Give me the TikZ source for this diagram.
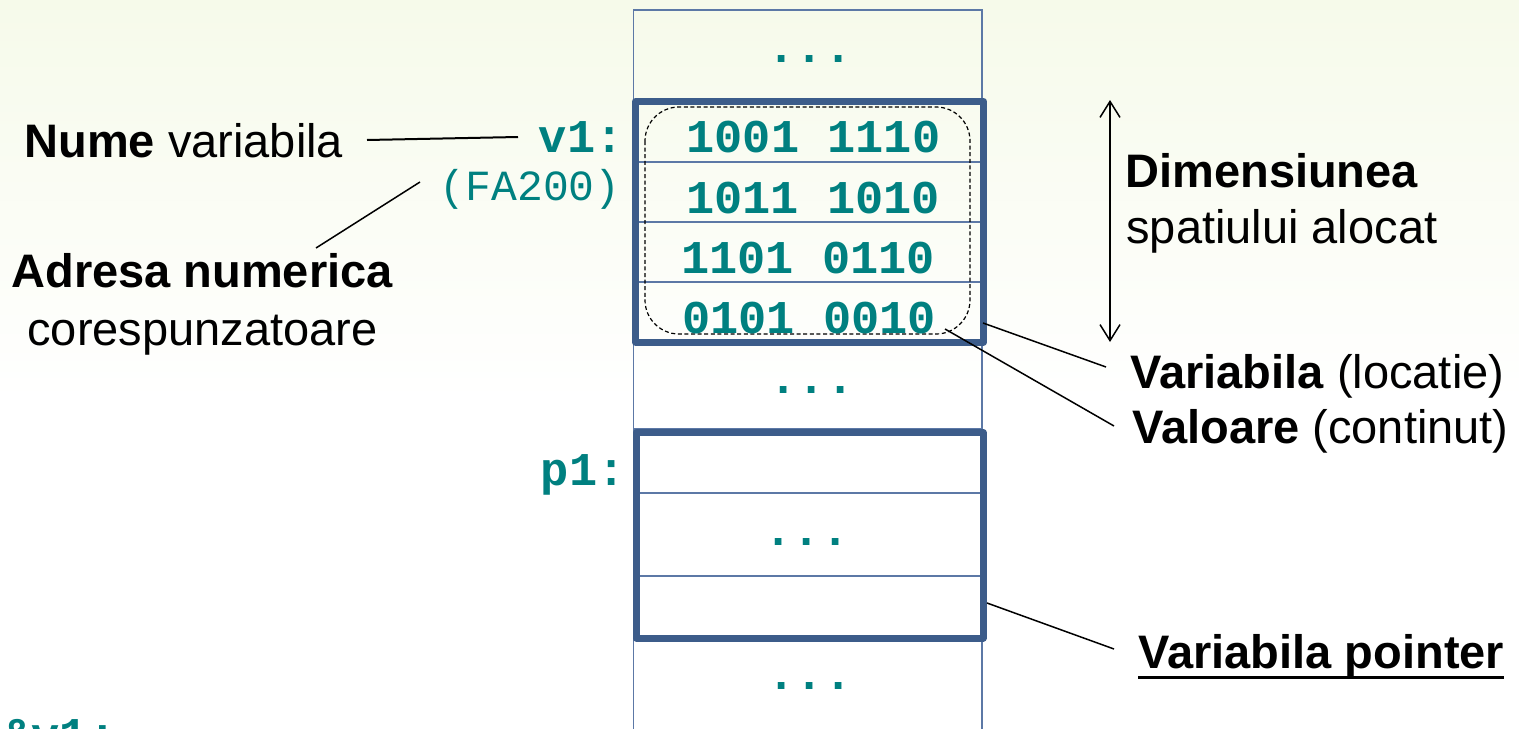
\documentclass[tikz,border=0pt]{standalone}
\usepackage{fontspec}
\setmainfont{Liberation Sans}
\setmonofont{Liberation Mono}
\usetikzlibrary{arrows.meta}

\definecolor{cellblue}{RGB}{92,120,166}
\definecolor{boxblue}{RGB}{60,92,138}
\definecolor{codeteal}{RGB}{0,128,128}
\definecolor{bgtint}{RGB}{246,250,234}

\begin{document}
\begin{tikzpicture}[x=0.5pt,y=-0.5pt,
  lbl/.style={inner sep=0pt, anchor=base west, font=\fontsize{23.5}{28}\selectfont},
  code/.style={inner sep=0pt, text=codeteal, font=\fontsize{23.5}{28}\selectfont\ttfamily\bfseries},
  addr/.style={inner sep=0pt, text=codeteal, font=\fontsize{21.5}{26}\selectfont\ttfamily},
  cell/.style={draw=cellblue, line width=0.6pt},
  varbox/.style={draw=boxblue, line width=3.5pt, line join=round},
  leader/.style={draw=black, line width=0.75pt},
  valuebox/.style={draw=black, line width=0.6pt, dash pattern=on 2pt off 1.3pt, rounded corners=17pt},
]
% canvas with a pale tint fading to white
\useasboundingbox (0,0) rectangle (1519,728);
\fill[white] (0,0) rectangle (1519,728);
\shade[top color=bgtint, bottom color=white] (0,0) rectangle (1519,400);

\begin{scope}
\clip (0,0) rectangle (1519,728);

% ---- memory column: thin cell outlines ----
\draw[cell] (633.5,760) -- (633.5,10) -- (982,10) -- (982,760);
\draw[cell] (638,162) -- (981,162);
\draw[cell] (638,222) -- (981,222);
\draw[cell] (638,282) -- (981,282);
\draw[cell] (633.5,429) -- (982,429);
\draw[cell] (638,493) -- (981,493);
\draw[cell] (638,576) -- (981,576);

% ---- variable boxes ----
\coordinate (v1nw) at (635.5,101.5);
\coordinate (v1se) at (983.5,342);
\draw[varbox] (v1nw) rectangle (v1se);
\coordinate (p1nw) at (636,432.5);
\coordinate (p1se) at (983,638);
\draw[varbox] (p1nw) rectangle (p1se);

% value of v1 (dashed outline)
\coordinate (valnw) at (645,107);
\coordinate (valse) at (970,334);
\draw[valuebox] (valnw) rectangle (valse);

% ---- cell contents ----
\node[code, anchor=base] (dotsA) at (810,62) {...};
\node[code, anchor=base] (byte1) at (813.5,152) {1001 1110};
\node[code, anchor=base] (byte2) at (813,213) {1011 1010};
\node[code, anchor=base] (byte3) at (808,273) {1101 0110};
\node[code, anchor=base] (byte4) at (809,333) {0101 0010};
\node[code, anchor=base] (dotsB) at (812,393) {...};
\node[code, anchor=base] (dotsC) at (807,545) {...};
\node[code, anchor=base] (dotsD) at (810,689) {...};

% variable names and address
\node[code, anchor=base east] (v1name) at (624,152) {v1:};
\node[code, anchor=base east] (p1name) at (626,485) {p1:};
\node[addr, anchor=base east] (v1addr) at (621,200) {(FA200)};

% code line running off the bottom edge
\node[code, anchor=base west] (assign) at (3,750) {\&v1;};

% ---- left labels ----
\node[lbl] (nume) at (24,157) {\textbf{Nume} variabila};
\node[lbl] (adresa) at (11,287) {\textbf{Adresa numerica}};
\node[lbl] (coresp) at (27,345) {corespunzatoare};

% ---- right labels ----
\node[lbl] (dim) at (1125,187) {\textbf{Dimensiunea}};
\node[lbl] (spatiu) at (1126,243) {spatiului alocat};
\node[lbl] (varloc) at (1130,388) {\textbf{Variabila} (locatie)};
\node[lbl] (valcont) at (1132,443) {\textbf{Valoare} (continut)};
\node[lbl] (varptr) at (1138,668) {\textbf{Variabila pointer}};
\draw[line width=1.5pt] ([yshift=-4.5pt]varptr.base west) -- ([yshift=-4.5pt]varptr.base east);

% ---- size arrow ----
\coordinate (dimtop) at (1110,100);
\coordinate (dimbot) at (1110,342);
\draw[line width=0.75pt, {Straight Barb[length=8pt,width=10pt]}-{Straight Barb[length=8pt,width=10pt]}] (dimtop) -- (dimbot);

% ---- leader lines ----
\coordinate (numeR) at (367,140);
\coordinate (v1L) at (518,137);
\draw[leader, line width=1pt] (numeR) -- (v1L);

\coordinate (adresaT) at (316,248);
\coordinate (addrL) at (420,182);
\draw[leader] (adresaT) -- (addrL);

\coordinate (v1edge) at (983,323);
\coordinate (varlocL) at (1106,367);
\draw[leader] (v1edge) -- (varlocL);

\coordinate (valcorner) at (945,329);
\coordinate (valcontL) at (1114,426);
\draw[leader] (valcorner) -- (valcontL);

\coordinate (p1edge) at (987,603);
\coordinate (varptrL) at (1114,649);
\draw[leader] (p1edge) -- (varptrL);
\end{scope}
\end{tikzpicture}
\end{document}
